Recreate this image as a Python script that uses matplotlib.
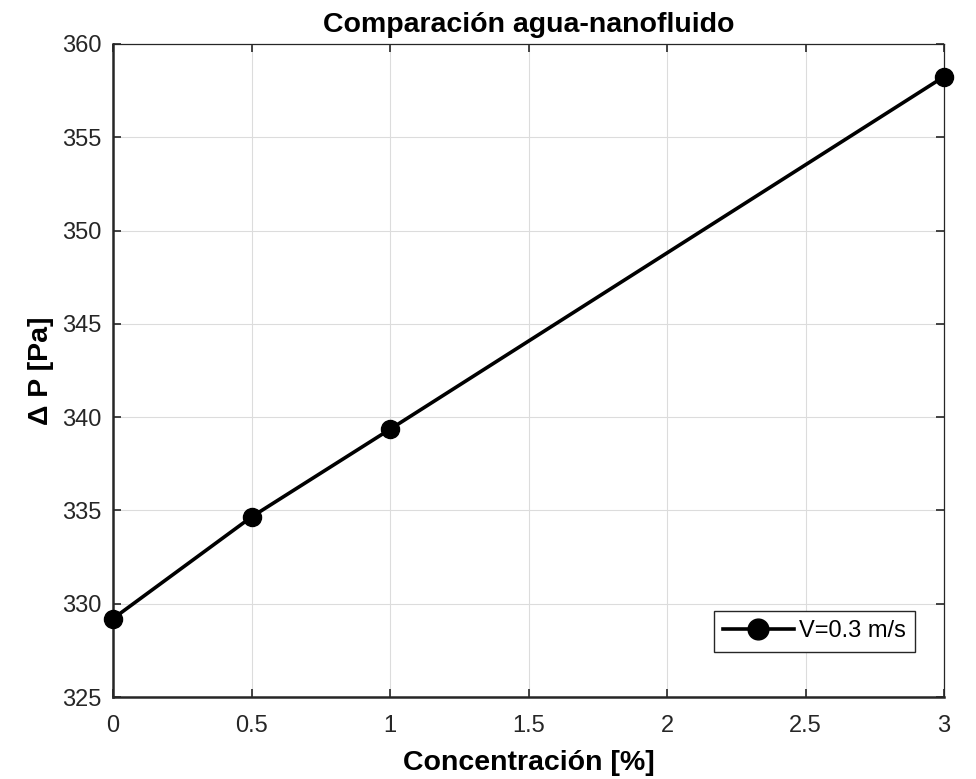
import matplotlib
matplotlib.use('Agg')
import matplotlib.pyplot as plt

plt.rcParams['font.family'] = ['Liberation Sans', 'DejaVu Sans']

concentracion = [0, 0.5, 1, 3]
delta_p = [329.2, 334.65, 339.35, 358.25]
xticks = [0, 0.5, 1, 1.5, 2, 2.5, 3]
yticks = [325, 330, 335, 340, 345, 350, 355, 360]

AX_COLOR = '#262626'

fig = plt.figure(figsize=(9.76, 7.79), dpi=100)
ax = fig.add_axes([113/976, 1 - 697/779, (944 - 113)/976, (697 - 44)/779])

ax.plot(concentracion, delta_p, '-o', color='black', linewidth=2.6,
        markersize=13, label='V=0.3 m/s', clip_on=False, zorder=5)

ax.set_xlim(0, 3)
ax.set_ylim(325, 360)
ax.set_xticks(xticks)
ax.set_xticklabels(['0', '0.5', '1', '1.5', '2', '2.5', '3'])
ax.set_yticks(yticks)
ax.grid(True, color='#dcdcdc', linewidth=0.8)
ax.set_axisbelow(True)

for side in ['left', 'bottom']:
    ax.spines[side].set_linewidth(1.8)
    ax.spines[side].set_color(AX_COLOR)
for side in ['top', 'right']:
    ax.spines[side].set_linewidth(0.9)
    ax.spines[side].set_color(AX_COLOR)

ax.tick_params(direction='in', length=6, width=1.2, colors=AX_COLOR,
               labelsize=17, labelcolor=AX_COLOR, top=True, right=True)
ax.tick_params(axis='x', pad=13)
ax.tick_params(axis='y', pad=8)

ax.set_title('Comparación agua-nanofluido', fontsize=20.5, fontweight='bold', pad=9)
ax.set_xlabel('Concentración [%]', fontsize=20.5, fontweight='bold', labelpad=9)
ax.set_ylabel('Δ P [Pa]', fontsize=20.5, fontweight='bold', labelpad=6)

leg = ax.legend(loc='lower right', bbox_to_anchor=(0.965, 0.069), borderaxespad=0,
                fontsize=17, fancybox=False, framealpha=1, edgecolor=AX_COLOR,
                handlelength=3.0, handletextpad=0.2, borderpad=0.4, markerscale=1.15)
leg.get_frame().set_linewidth(1.0)

plt.savefig('out.png', dpi=100)
